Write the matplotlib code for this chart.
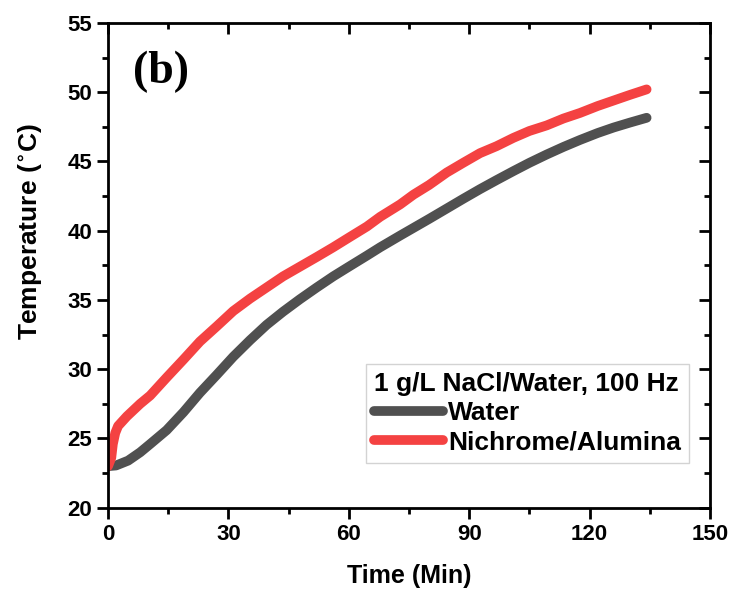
import matplotlib.pyplot as plt

# Du lieu doc tu hinh (phut, do C)
time_water = [0, 2, 5, 8, 10.5, 14.6, 18.8, 22.9, 27.1, 31.2, 35.4, 39.5, 43.6, 47.8, 52,
              56.1, 60, 64.5, 67.8, 72.8, 76.1, 80, 84.4, 88.5, 92.7, 96.8, 101, 105,
              109.3, 113.5, 117.6, 122, 126, 130, 134.2]
temp_water = [23.0, 23.05, 23.4, 24.0, 24.6, 25.6, 26.9, 28.3, 29.6, 30.9, 32.1, 33.2, 34.15,
              35.05, 35.9, 36.7, 37.4, 38.2, 38.8, 39.65, 40.2, 40.85, 41.6, 42.3, 43.0,
              43.65, 44.3, 44.9, 45.5, 46.05, 46.55, 47.05, 47.45, 47.8, 48.15]

time_nichrome = [0, 0.8, 1.2, 1.8, 2.5, 4.7, 8, 10.5, 14.6, 18.8, 22.9, 27.1, 31.2, 35.4,
                 39.5, 43.6, 47.8, 52, 56.1, 60, 64.5, 67.8, 72.8, 76.1, 80, 84.4, 88.5,
                 92.7, 96.8, 101, 105, 109.3, 113.5, 117.6, 122, 126, 130, 134.2]
temp_nichrome = [23.0, 23.6, 24.6, 25.4, 25.9, 26.6, 27.5, 28.1, 29.4, 30.7, 32.0, 33.1,
                 34.2, 35.1, 35.9, 36.7, 37.4, 38.1, 38.8, 39.5, 40.3, 41.0, 41.9, 42.6,
                 43.3, 44.2, 44.9, 45.6, 46.1, 46.7, 47.2, 47.6, 48.1, 48.5, 49.0, 49.4,
                 49.8, 50.2]

x_ticks = [0, 30, 60, 90, 120, 150]
x_minor = [15, 45, 75, 105, 135]
y_ticks = [20, 25, 30, 35, 40, 45, 50, 55]
y_minor = [22.5, 27.5, 32.5, 37.5, 42.5, 47.5, 52.5]

plt.rcParams['font.family'] = 'Liberation Sans'
plt.rcParams['font.weight'] = 'bold'

fig = plt.figure(figsize=(7.35, 6.03), dpi=100)
ax = fig.add_axes([0.147, 0.158, 0.819, 0.804])

ax.plot(time_water, temp_water, color='#505050', lw=7, solid_capstyle='round', label='Water')
ax.plot(time_nichrome, temp_nichrome, color='#f44242', lw=7, solid_capstyle='round',
        label='Nichrome/Alumina')

ax.set_xlim(0, 150)
ax.set_ylim(20, 55)
ax.set_xticks(x_ticks)
ax.set_yticks(y_ticks)
ax.set_xticks(x_minor, minor=True)
ax.set_yticks(y_minor, minor=True)
ax.tick_params(which='major', direction='out', length=8, width=2, labelsize=16)
ax.tick_params(which='minor', direction='out', length=4, width=2)
for s in ax.spines.values():
    s.set_linewidth(2)

# truc tren va phai: vach huong vao trong
top = ax.secondary_xaxis('top')
top.set_xticks(x_ticks)
top.set_xticks(x_minor, minor=True)
top.tick_params(which='major', direction='in', length=8, width=2, labeltop=False)
top.tick_params(which='minor', direction='in', length=4, width=2)
right = ax.secondary_yaxis('right')
right.set_yticks(y_ticks)
right.set_yticks(y_minor, minor=True)
right.tick_params(which='major', direction='in', length=8, width=2, labelright=False)
right.tick_params(which='minor', direction='in', length=4, width=2)

ax.set_xlabel('Time (Min)', fontsize=18, fontweight='bold', labelpad=14)
ax.set_ylabel('Temperature ($^{\\circ}$C)', fontsize=19, fontweight='bold')
ax.yaxis.set_label_coords(-0.105, 0.57)

ax.text(0.042, 0.9, '(b)', transform=ax.transAxes, fontsize=33, fontweight='bold',
        family='Liberation Serif', va='center')

leg = ax.legend(loc='lower right', bbox_to_anchor=(0.965, 0.093), title='1 g/L NaCl/Water, 100 Hz',
                fontsize=19, title_fontproperties={'weight': 'bold', 'size': 19},
                fancybox=False, edgecolor='#c8c8c8', handlelength=2.6, handletextpad=0.2,
                borderpad=0.3, labelspacing=0.2, borderaxespad=0)
leg._legend_box.align = 'left'
leg.get_frame().set_linewidth(1)
for t in leg.get_texts():
    t.set_fontweight('bold')

fig.savefig('out.png', dpi=100)
